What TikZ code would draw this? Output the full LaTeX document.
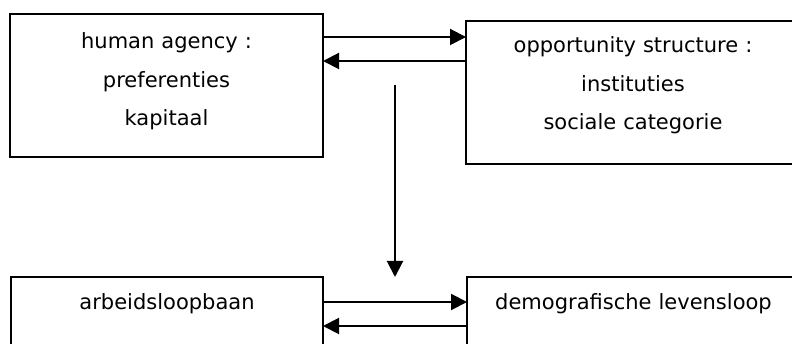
\documentclass[tikz,border=0pt]{standalone}
\usepackage{fontspec}
\setmainfont{DejaVu Sans}
\usetikzlibrary{arrows.meta}

\begin{document}
\begin{tikzpicture}[x=1pt,y=-1pt,
    box/.style={draw,line width=2pt,inner sep=0pt,outer sep=0pt,anchor=north west,align=center,
      font=\fontsize{21}{38.5}\selectfont},
    link/.style={line width=2pt,-{Triangle[length=16pt,width=16pt]}}]
  \useasboundingbox (0,0) rectangle (792,344);
  \clip (0,0) rectangle (792,344);
  % upper row
  \node[box,text width=313pt,text height=35pt,text depth=108pt] (agency) at (10,14) {human agency :\\preferenties\\kapitaal};
  \node[box,text width=334pt,text height=32pt,text depth=111pt] (opportunity) at (466,21) {opportunity structure :\\instituties\\sociale categorie};
  % lower row
  \node[box,text width=312pt,text height=33pt,text depth=70pt] (labour) at (11,277) {arbeidsloopbaan};
  \node[box,text width=333pt,text height=33pt,text depth=70pt] (demo) at (467,277) {demografische levensloop};
  \coordinate (down1) at (395,85);
  \coordinate (down2) at (395,277);
  \draw[link] (agency.east |- 0,37) -- (opportunity.west |- 0,37);
  \draw[link] (opportunity.west |- 0,61) -- (agency.east |- 0,61);
  \draw[link] (down1) -- (down2);
  \draw[link] (labour.east |- 0,302) -- (demo.west |- 0,302);
  \draw[link] (demo.west |- 0,326) -- (labour.east |- 0,326);
\end{tikzpicture}
\end{document}
